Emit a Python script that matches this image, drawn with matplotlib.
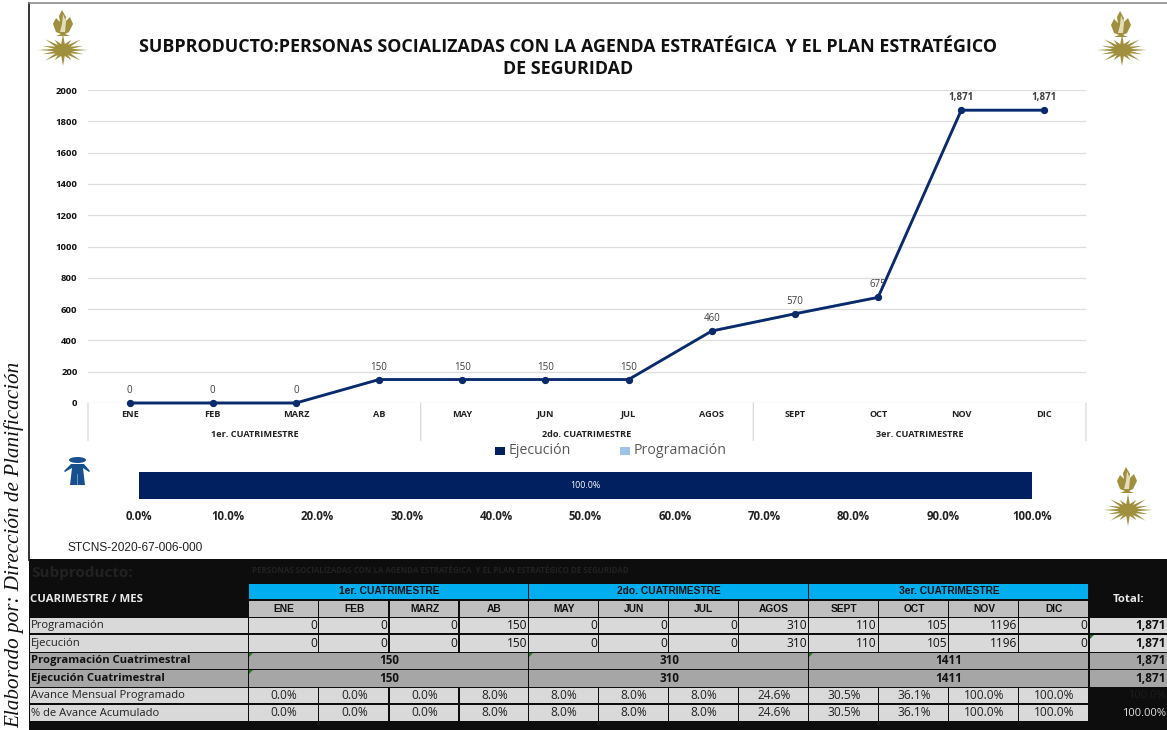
import matplotlib
matplotlib.use("Agg")
import matplotlib.pyplot as plt
import numpy as np
from matplotlib.patches import Rectangle, Polygon, Ellipse

W, H = 1167, 730
NAVY = "#002060"
LINE = "#0B2A6B"
LIGHT = "#9DC3E6"
GOLD = "#A08F3C"
CYAN = "#00AEEF"
SANS = ["Open Sans", "DejaVu Sans"]
NARROW = ["Liberation Sans Narrow", "Liberation Sans"]

title = "SUBPRODUCTO:PERSONAS SOCIALIZADAS CON LA AGENDA ESTRATÉGICA  Y EL PLAN ESTRATÉGICO\nDE SEGURIDAD"
subtitle = "PERSONAS SOCIALIZADAS CON LA AGENDA ESTRATÉGICA  Y EL PLAN ESTRATÉGICO DE SEGURIDAD"
months = ["ENE", "FEB", "MARZ", "AB", "MAY", "JUN", "JUL", "AGOS", "SEPT", "OCT", "NOV", "DIC"]
quarters = ["1er. CUATRIMESTRE", "2do. CUATRIMESTRE", "3er. CUATRIMESTRE"]
ejecucion_acum = [0, 0, 0, 150, 150, 150, 150, 460, 570, 675, 1871, 1871]
programacion_acum = [0, 0, 0, 150, 150, 150, 150, 460, 570, 675, 1871, 1871]
programacion = [0, 0, 0, 150, 0, 0, 0, 310, 110, 105, 1196, 0]
ejecucion = [0, 0, 0, 150, 0, 0, 0, 310, 110, 105, 1196, 0]
prog_cuat = [150, 310, 1411]
ejec_cuat = [150, 310, 1411]
avance_mensual = [0.0, 0.0, 0.0, 8.0, 8.0, 8.0, 8.0, 24.6, 30.5, 36.1, 100.0, 100.0]
avance_acum = [0.0, 0.0, 0.0, 8.0, 8.0, 8.0, 8.0, 24.6, 30.5, 36.1, 100.0, 100.0]
total = 1871
avance_total = 100.0
yticks = list(range(0, 2001, 200))
bar_value = 100.0
bar_ticks = list(range(0, 101, 10))

fig = plt.figure(figsize=(W / 100, H / 100), dpi=100, facecolor="white")


def pax(x0, y0, x1, y1, **kw):
    return fig.add_axes([x0 / W, 1 - y1 / H, (x1 - x0) / W, (y1 - y0) / H], **kw)


# Overlay in pixel coordinates for frame, table and decorations
ov = fig.add_axes([0, 0, 1, 1], zorder=0)
ov.set_xlim(0, W)
ov.set_ylim(H, 0)
ov.axis("off")

ov.plot([29, 29], [3, 560], color="#111111", lw=1.2)
ov.plot([29, W], [3, 3], color="#8c8c8c", lw=1.2)
ov.text(568, 58, title, ha="center", va="center", fontsize=12.85, fontweight="bold",
        family=SANS, color="#111111", linespacing=1.32)
ov.text(14, 545, "Elaborado por: Dirección de Planificación", rotation=90, ha="center", va="center",
        family="Liberation Serif", style="italic", fontsize=15.2, color="#111111")
ov.text(67, 548, "STCNS-2020-67-006-000", family="Liberation Sans", fontsize=8.6, va="center", color="#222222")


def emblem(cx, cy, fx, fy):
    # star with long horizontal/vertical rays and short diagonal rays
    ang = np.deg2rad(np.arange(0, 360, 22.5))
    pts = []
    for i, a in enumerate(ang):
        if i % 8 == 0:
            rx, ry = 25, 16
        elif i % 4 == 0:
            rx, ry = 8, 16
        elif i % 2 == 0:
            rx, ry = 25, 15
        else:
            rx, ry = 22, 11
        pts.append((cx + rx * np.cos(a), cy + ry * np.sin(a)))
        b = a + np.deg2rad(11.25)
        pts.append((cx + 9 * np.cos(b), cy + 6 * np.sin(b)))
    ov.add_patch(Polygon(pts, closed=True, fc=GOLD, ec="none"))
    # flame and cup
    fl = [(fx - 1, fy - 13), (fx + 3, fy - 6), (fx + 2, fy - 1), (fx + 7, fy - 6), (fx + 10, fy + 1), (fx + 6, fy + 9),
          (fx + 2, fy + 11), (fx + 7, fy + 13), (fx - 7, fy + 13), (fx - 2, fy + 11), (fx - 7, fy + 9),
          (fx - 10, fy + 1), (fx - 7, fy - 5), (fx - 3, fy - 1), (fx - 4, fy - 7)]
    ov.add_patch(Polygon(fl, closed=True, fc=GOLD, ec="none"))
    ov.add_patch(Polygon([(fx, fy - 9), (fx + 3, fy - 1), (fx + 2, fy + 9), (fx - 3, fy + 9), (fx - 1, fy + 1)],
                         closed=True, fc="#E3DDBB", ec="none"))


emblem(63, 50, 63, 23)
emblem(1122, 50, 1121, 24)
emblem(1128, 510, 1127, 480)

# Person icon
PERSON = "#17508C"
ov.add_patch(Ellipse((77.5, 460), 17, 6, fc=PERSON, ec="none"))
ov.add_patch(Polygon([(64, 471), (71, 464), (84, 464), (90, 471), (89, 472), (83, 468), (85, 485), (70, 485), (72, 468),
                      (65, 472)], closed=True, fc=PERSON, ec="none"))
ov.add_patch(Rectangle((76.8, 474), 1.5, 11, fc="#6F94BA", ec="none"))

# Line chart
ax = pax(88, 90, 1086, 403, zorder=2)
ax.patch.set_alpha(0)
x = np.arange(12)
ax.set_xlim(-0.5, 11.5)
ax.set_ylim(0, 2000)
ax.set_yticks(yticks)
ax.grid(axis="y", color="#DEDEDE", lw=0.9)
ax.set_axisbelow(True)
for s in ax.spines.values():
    s.set_visible(False)
ax.tick_params(axis="y", length=0, pad=7.5)
for lab in ax.get_yticklabels():
    lab.set_fontsize(6.8)
    lab.set_fontweight("bold")
    lab.set_family(SANS)
    lab.set_color("#111111")
ax.plot(x, programacion_acum, color=LIGHT, lw=2, marker="o", ms=4.2, clip_on=False)
ax.plot(x, ejecucion_acum, color=LINE, lw=2, marker="o", ms=4.2, clip_on=False)
for i, v in zip(x, ejecucion_acum):
    ax.annotate(f"{v:,}", (i, v), xytext=(0, 9), textcoords="offset points", ha="center", va="center",
                fontsize=7, family=SANS, color="#404040", fontweight="bold" if v > 1000 else "normal", zorder=1)
ax.set_xticks(x, months)
ax.tick_params(axis="x", length=0, pad=5)
for lab in ax.get_xticklabels():
    lab.set_fontsize(6.6)
    lab.set_fontweight("bold")
    lab.set_family(SANS)
    lab.set_color("#222222")
for i, q in enumerate(quarters):
    c = 1.5 + 4 * i
    ax.annotate(q, (c, 0), xytext=(0, -22.5), textcoords="offset points", ha="center", va="center", fontsize=6.6,
                fontweight="bold", family=SANS, color="#222222", annotation_clip=False)
for b in (-0.5, 3.5, 7.5, 11.5):
    ax.annotate("", (b, 0), xytext=(0, -27), textcoords=("offset points"), xycoords="data",
                arrowprops=dict(arrowstyle="-", color="#D9D9D9", lw=0.9, shrinkA=0, shrinkB=0), annotation_clip=False)

# Legend
for lx, col, name in ((495, NAVY, "Ejecución"), (620, LIGHT, "Programación")):
    ov.add_patch(Rectangle((lx, 447), 10, 8, fc=col, ec="none"))
    ov.text(lx + 14, 451, name, family="Open Sans", fontsize=10.2, color="#595959", va="center")

# Progress bar
bx = pax(139, 472, 1032, 499, zorder=2)
bx.barh([0], [bar_value], height=1, color=NAVY)
bx.set_xlim(0, 100)
bx.set_ylim(-0.5, 0.5)
bx.set_yticks([])
bx.set_xticks(bar_ticks, [f"{t:.1f}%" for t in bar_ticks])
bx.tick_params(axis="x", length=0, pad=8)
for lab in bx.get_xticklabels():
    lab.set_fontsize(8.3)
    lab.set_fontweight("bold")
    lab.set_family(SANS)
    lab.set_color("#222222")
for s in bx.spines.values():
    s.set_visible(False)
bx.text(bar_value / 2, 0, f"{bar_value:.1f}%", color="white", ha="center", va="center", fontsize=6.4, family=SANS)

# Table
ov.add_patch(Rectangle((29, 559), W - 29, H - 559, fc="#0D0D0D", ec="none"))
ov.text(31, 573, "Subproducto:", family=SANS, fontsize=11, fontweight="bold", color="#222222", va="center")
ov.text(252, 570.5, subtitle, family=SANS, fontsize=5.7, fontweight="bold", color="#222222", va="center")

edges = [249, 319, 389.5, 459.5, 529, 599, 669, 739, 809, 879, 949, 1019, 1089]
qedges = [edges[0], edges[4], edges[8], edges[12]]
rows = {"quad": (584, 599), "mes": (601, 617), "prog": (618, 633), "ejec": (635, 652), "pc": (653, 669),
        "ec": (670, 687), "am": (688, 703), "aa": (705, 721)}
GAP = 1.2


def cell(x0, x1, row, fc):
    y0, y1 = rows[row]
    ov.add_patch(Rectangle((x0, y0), x1 - x0 - GAP, y1 - y0, fc=fc, ec="none"))


def cy(row):
    return sum(rows[row]) / 2


def tri(x0, row):
    y0 = rows[row][0]
    ov.add_patch(Polygon([(x0, y0), (x0 + 4, y0), (x0, y0 + 4)], closed=True, fc="#1E7B1E", ec="none", zorder=5))


ov.text(30, 600, "CUARIMESTRE / MES", family=SANS, fontsize=8.2, fontweight="bold", color="#E8E8E8", va="center")
ov.text(1129, 600, "Total:", family=SANS, fontsize=8.2, fontweight="bold", color="#E8E8E8", va="center", ha="center")

for i, q in enumerate(quarters):
    cell(qedges[i], qedges[i + 1], "quad", CYAN)
    ov.text((qedges[i] + qedges[i + 1]) / 2, cy("quad"), q, family=NARROW, fontweight="bold", fontsize=7.4,
            ha="center", va="center", color="#111111")
    for row, vals in (("pc", prog_cuat), ("ec", ejec_cuat)):
        cell(qedges[i], qedges[i + 1], row, "#A6A6A6")
        ov.text((qedges[i] + qedges[i + 1]) / 2, cy(row), str(vals[i]), family=SANS, fontweight="bold", fontsize=8.4,
                ha="center", va="center", color="#111111")

for i, m in enumerate(months):
    x0, x1 = edges[i], edges[i + 1]
    cell(x0, x1, "mes", "#BFBFBF")
    ov.text((x0 + x1) / 2, cy("mes"), m, family=NARROW, fontweight="bold", fontsize=7.4, ha="center", va="center",
            color="#111111")
    for row, vals in (("prog", programacion), ("ejec", ejecucion)):
        cell(x0, x1, row, "#D9D9D9")
        ov.text(x1 - 2, cy(row), str(vals[i]), family=SANS, fontsize=8.6, ha="right", va="center", color="#111111")
    for row, vals in (("am", avance_mensual), ("aa", avance_acum)):
        cell(x0, x1, row, "#D9D9D9")
        ov.text((x0 + x1) / 2, cy(row), f"{vals[i]:.1f}%", family=SANS, fontsize=8.6, ha="center", va="center",
                color="#222222")

labels = {"prog": ("Programación", False), "ejec": ("Ejecución", False), "pc": ("Programación Cuatrimestral", True),
          "ec": ("Ejecución Cuatrimestral", True), "am": ("Avance Mensual Programado", False),
          "aa": ("% de Avance Acumulado", False)}
for row, (txt, bold) in labels.items():
    cell(29.5, 249.5, row, "#A6A6A6" if bold else "#D9D9D9")
    ov.text(31, cy(row), txt, family=SANS, fontsize=8.1, fontweight="bold" if bold else "normal", va="center",
            color="#111111" if bold else "#222222")

for row in ("prog", "ejec", "pc", "ec"):
    cell(1090, W + 2, row, "#D9D9D9" if row in ("prog", "ejec") else "#A6A6A6")
    ov.text(1166, cy(row), f"{total:,}", family=SANS, fontweight="bold", fontsize=8.6, ha="right", va="center",
            color="#111111")
ov.text(1166, cy("am"), f"{avance_total:.1f}%", family=SANS, fontsize=8, ha="right", va="center", color="#1c1c1c")
ov.text(1166, cy("aa"), f"{avance_total:.2f}%", family=SANS, fontsize=8, ha="right", va="center", color="#E0E0E0")

tri(qedges[0], "pc")
tri(qedges[0], "ec")
tri(qedges[1], "pc")
tri(qedges[2], "pc")
tri(1090, "ejec")

fig.savefig("out.png", dpi=100)
